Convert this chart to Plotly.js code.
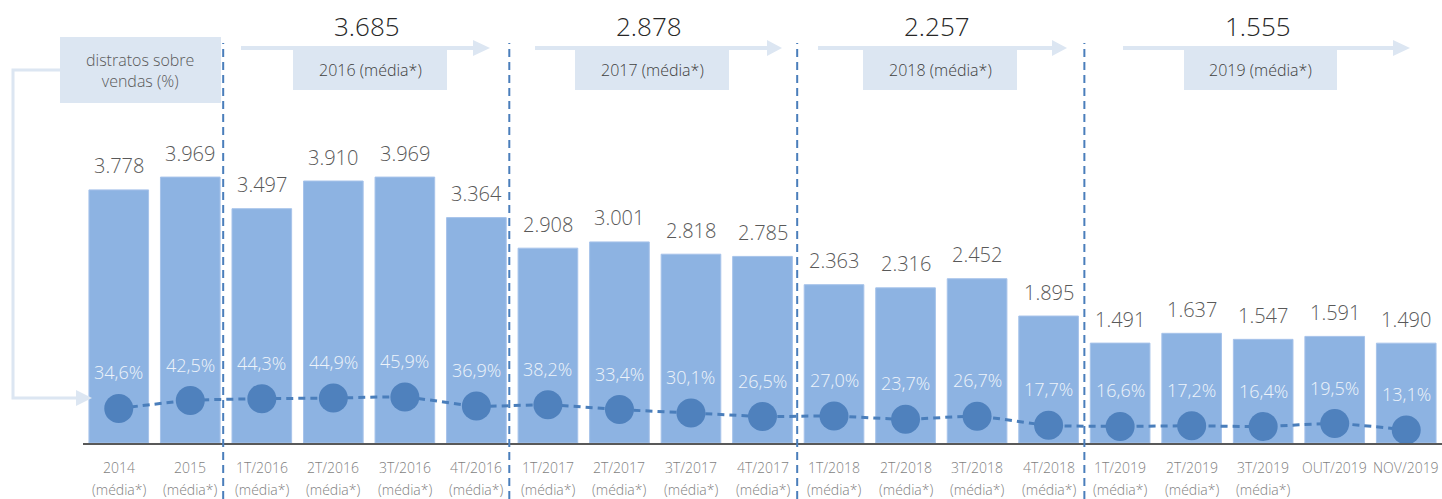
<!DOCTYPE html>
<html>
<head>
<meta charset="utf-8">
<script src="https://cdn.plot.ly/plotly-3.0.1.min.js"></script>
<style>html,body{margin:0;padding:0;background:#fff;}#chart{width:1442px;height:499px;}</style>
</head>
<body>
<div id="chart"></div>
<script>
// ---- data ----
const categories = ['2014','2015','1T/2016','2T/2016','3T/2016','4T/2016','1T/2017','2T/2017','3T/2017','4T/2017','1T/2018','2T/2018','3T/2018','4T/2018','1T/2019','2T/2019','3T/2019','OUT/2019','NOV/2019'];
const subLabels = ['(média*)','(média*)','(média*)','(média*)','(média*)','(média*)','(média*)','(média*)','(média*)','(média*)','(média*)','(média*)','(média*)','(média*)','(média*)','(média*)','(média*)','',''];
const distratos = [3778,3969,3497,3910,3969,3364,2908,3001,2818,2785,2363,2316,2452,1895,1491,1637,1547,1591,1490];
const distratosPct = [34.6,42.5,44.3,44.9,45.9,36.9,38.2,33.4,30.1,26.5,27.0,23.7,26.7,17.7,16.6,17.2,16.4,19.5,13.1];
const yearLabels = ['2016 (média*)','2017 (média*)','2018 (média*)','2019 (média*)'];
const yearAverages = [3685,2878,2257,1555];
const legendText = 'distratos sobre<br>vendas (%)';

// ---- formatting ----
function fmtThousands(v){ return Math.floor(v/1000) + '.' + String(v%1000).padStart(3,'0'); }
function fmtPct(v){ return v.toFixed(1).replace('.', ',') + '%'; }

// ---- geometry helpers (pixel -> paper) ----
const L = 83, W = 1359, B = 443, H = 443;
const px = x => (x - L) / W;
const py = y => (B - y) / H;
const FONT = 'Open Sans, Noto Sans, sans-serif';
const WT = 300;
const LIGHT = '#dce6f2';

const traces = [
  {
    type: 'bar', x: categories, y: distratos,
    marker: {color: '#8db3e2', line: {color: '#a7c3ea', width: 1}},
    hoverinfo: 'none'
  },
  {
    type: 'scatter', mode: 'lines+markers', x: categories, y: distratosPct, yaxis: 'y2',
    line: {color: '#4a7ebb', width: 3, dash: '7px,5px', shape: 'spline', smoothing: 0.6},
    marker: {size: 29, color: '#4f81bd'},
    cliponaxis: false, hoverinfo: 'none'
  }
];

const annotations = [];
const shapes = [];

// category axis: annotations use the category index (numeric-looking names like "2014" would be read as positions)
categories.forEach((c, i) => {
  annotations.push({x: i, y: distratos[i], xref: 'x', yref: 'y', yshift: 24, text: fmtThousands(distratos[i]),
    showarrow: false, yanchor: 'middle', font: {family: FONT, size: 20, color: '#595959', weight: WT}});
  annotations.push({x: i, y: distratosPct[i], xref: 'x', yref: 'y2', yshift: 36, text: fmtPct(distratosPct[i]),
    showarrow: false, yanchor: 'middle', font: {family: FONT, size: 18, color: '#eef3fa', weight: WT}});
  annotations.push({x: i, y: py(467), xref: 'x', yref: 'paper', text: c,
    showarrow: false, yanchor: 'middle', font: {family: FONT, size: 14, color: '#7f7f7f', weight: WT}});
  if (subLabels[i]) annotations.push({x: i, y: py(489), xref: 'x', yref: 'paper', text: subLabels[i],
    showarrow: false, yanchor: 'middle', font: {family: FONT, size: 14, color: '#7f7f7f', weight: WT}});
});

// vertical dashed separators
[1.46, 5.46, 9.485, 13.5].forEach(xv => {
  shapes.push({type: 'line', xref: 'x', yref: 'paper', x0: xv, x1: xv, y0: py(499), y1: py(43),
    line: {color: '#4a7ebb', width: 2, dash: '8px,5px'}, layer: 'above'});
});

// header arrows + boxes
const arrowStart = [241, 535, 818, 1123];
const arrowEnd = [473, 767, 1052, 1393];
const arrowTip = [490, 782, 1067, 1410];
const boxL = [293, 575, 863, 1184];
const boxR = [447, 729, 1017, 1337];
yearLabels.forEach((t, i) => {
  shapes.push({type: 'line', xref: 'paper', yref: 'paper', x0: px(arrowStart[i]), x1: px(arrowEnd[i]), y0: py(48), y1: py(48),
    line: {color: LIGHT, width: 4}});
  shapes.push({type: 'path', xref: 'paper', yref: 'paper',
    path: `M ${px(arrowEnd[i])} ${py(40)} L ${px(arrowTip[i])} ${py(48)} L ${px(arrowEnd[i])} ${py(56)} Z`,
    fillcolor: LIGHT, line: {width: 0}});
  shapes.push({type: 'rect', xref: 'paper', yref: 'paper', x0: px(boxL[i]), x1: px(boxR[i]), y0: py(90), y1: py(47),
    fillcolor: LIGHT, line: {width: 0}});
  const cx = (boxL[i] + boxR[i]) / 2;
  annotations.push({x: px(cx), y: py(70), xref: 'paper', yref: 'paper', text: t, showarrow: false,
    xanchor: 'center', yanchor: 'middle', font: {family: FONT, size: 16, color: '#404040', weight: WT}});
  annotations.push({x: px(cx - 3), y: py(26), xref: 'paper', yref: 'paper', text: fmtThousands(yearAverages[i]), showarrow: false,
    xanchor: 'center', yanchor: 'middle', font: {family: FONT, size: 26, color: '#262626', weight: WT}});
});

// left legend box and connector
shapes.push({type: 'rect', xref: 'paper', yref: 'paper', x0: px(60), x1: px(221), y0: py(103), y1: py(37),
  fillcolor: LIGHT, line: {width: 0}});
shapes.push({type: 'path', xref: 'paper', yref: 'paper',
  path: `M ${px(60)} ${py(70)} L ${px(13)} ${py(70)} L ${px(13)} ${py(398)} L ${px(78)} ${py(398)}`,
  line: {color: LIGHT, width: 3}});
shapes.push({type: 'path', xref: 'paper', yref: 'paper',
  path: `M ${px(76)} ${py(390)} L ${px(92)} ${py(398)} L ${px(76)} ${py(406)} Z`,
  fillcolor: LIGHT, line: {width: 0}});
annotations.push({x: px(140), y: py(71), xref: 'paper', yref: 'paper', text: legendText, showarrow: false,
  xanchor: 'center', yanchor: 'middle', font: {family: FONT, size: 16, color: '#595959', weight: WT}});

const layout = {
  width: 1442, height: 499,
  margin: {l: L, r: 0, t: 0, b: 56},
  paper_bgcolor: '#ffffff', plot_bgcolor: '#ffffff',
  showlegend: false,
  bargap: 0.166,
  xaxis: {type: 'category', range: [-0.5, 18.5], showline: true, linecolor: '#595959', linewidth: 1.5,
    showticklabels: false, ticks: '', showgrid: false, zeroline: false, fixedrange: true},
  yaxis: {range: [0, 6612], visible: false, fixedrange: true},
  yaxis2: {range: [0, 443], overlaying: 'y', visible: false, fixedrange: true},
  annotations: annotations,
  shapes: shapes,
  font: {family: FONT}
};

Plotly.newPlot('chart', traces, layout, {displayModeBar: false, staticPlot: true});
</script>
</body>
</html>
